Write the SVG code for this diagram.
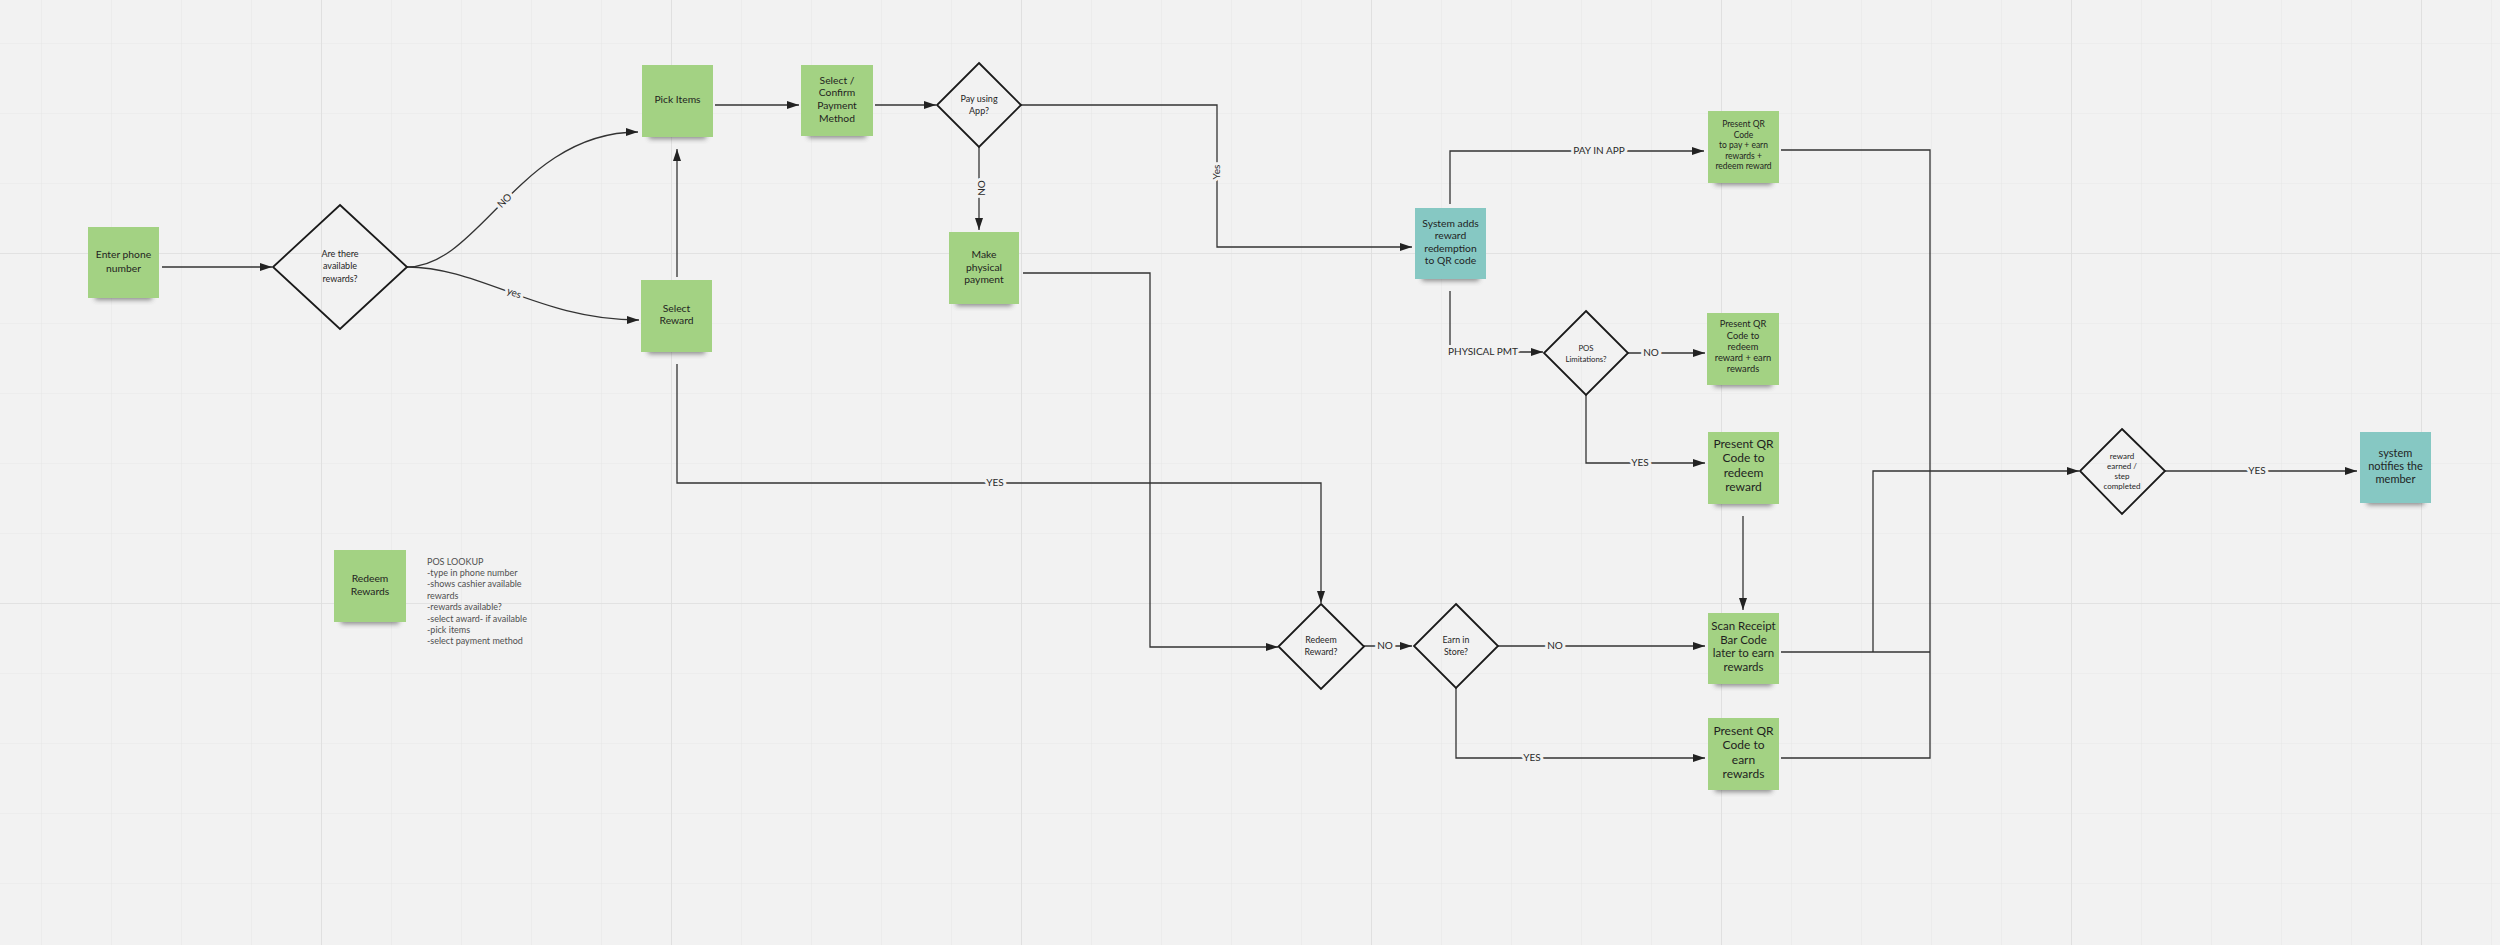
<svg xmlns="http://www.w3.org/2000/svg" width="2500" height="945" viewBox="0 0 2500 945">
<defs>
<pattern id="grid" x="41" y="43" width="70" height="70" patternUnits="userSpaceOnUse">
<path d="M0,0 H70 M0,0 V70" fill="none" stroke="#e7e7e7" stroke-width="1.2"/>
</pattern>
<pattern id="major" x="321" y="253" width="350" height="350" patternUnits="userSpaceOnUse">
<path d="M0,0 H350 M0,0 V350" fill="none" stroke="#dedede" stroke-width="1.6"/>
</pattern>
<filter id="blur" x="-20%" y="-50%" width="140%" height="200%"><feGaussianBlur stdDeviation="2.5"/></filter>
<marker id="arr" viewBox="0 0 12 8" refX="12" refY="4" markerWidth="12" markerHeight="8" markerUnits="userSpaceOnUse" orient="auto">
<path d="M0,0 L12,4 L0,8 z" fill="#222"/>
</marker>
<style>
.g{fill:#a3d283}
.t{fill:#86c8c3}
.sh{fill:#444;opacity:.6;filter:url(#blur)}
.d{fill:none;stroke:#1a1a1a;stroke-width:1.8}
.c{fill:none;stroke:#333;stroke-width:1.3}
.a{marker-end:url(#arr)}
text{font-family:Lato,"Liberation Sans",sans-serif;fill:#1f1f1f;text-anchor:middle}
.lb{font-size:10px;fill:#2a2a2a;stroke:#f2f2f2;stroke-width:6;paint-order:stroke;stroke-linejoin:round}
.n{text-anchor:start;font-size:9px;fill:#505050}
</style>
</defs>
<rect width="2500" height="945" fill="#f2f2f2"/>
<rect width="2500" height="945" fill="url(#grid)"/>
<rect width="2500" height="945" fill="url(#major)"/>

<g id="connectors">
<path class="c a" d="M162,267 H272"/>
<path class="c a" d="M407,267 C480,267 520,132 638,132"/>
<path class="c a" d="M407,267 C480,267 540,320 639,320"/>
<path class="c a" d="M677,277 V149"/>
<path class="c a" d="M715,105 H799"/>
<path class="c a" d="M875,105 H936"/>
<path class="c a" d="M979,147 V230"/>
<path class="c a" d="M1021,105 H1217 V247 H1412"/>
<path class="c a" d="M1023,273 H1150 V647 H1278"/>
<path class="c a" d="M677,364 V483 H1321 V603"/>
<path class="c a" d="M1364,646 H1412"/>
<path class="c a" d="M1498,646 H1705"/>
<path class="c a" d="M1456,688 V758 H1705"/>
<path class="c a" d="M1450,204 V151 H1704"/>
<path class="c a" d="M1450,291 V352 H1543"/>
<path class="c a" d="M1628,353 H1705"/>
<path class="c a" d="M1586,395 V463 H1705"/>
<path class="c a" d="M1743,516 V610"/>
<path class="c" d="M1781,150 H1930 V758 H1781"/>
<path class="c" d="M1781,652 H1930"/>
<path class="c a" d="M1873,652 V471 H2079"/>
<path class="c a" d="M2165,471 H2357"/>
<text class="lb" transform="translate(507,203) rotate(-45)">NO</text>
<text class="lb" transform="translate(513,296) rotate(20)">yes</text>
<text class="lb" transform="translate(982,188) rotate(-90)" dy="3.4">NO</text>
<text class="lb" transform="translate(1217,172) rotate(-90)" dy="3.4">Yes</text>
<text class="lb" x="995" y="486.4">YES</text>
<text class="lb" x="1599" y="154.4">PAY IN APP</text>
<text class="lb" x="1483" y="355.4">PHYSICAL PMT</text>
<text class="lb" x="1651" y="356.4">NO</text>
<text class="lb" x="1640" y="466.4">YES</text>
<text class="lb" x="1385" y="649.4">NO</text>
<text class="lb" x="1555" y="649.4">NO</text>
<text class="lb" x="1532" y="761.4">YES</text>
<text class="lb" x="2257" y="474.4">YES</text>
</g>

<g id="enter-phone">
<rect class="sh" x="95" y="290" width="57" height="10"/>
<rect class="g" x="88" y="227" width="71" height="71"/>
<text font-size="10.3" x="123.5" y="257.5">Enter phone</text>
<text font-size="10.3" x="123.5" y="271.5">number</text>
</g>
<g id="rewards-available">
<path class="d" d="M340,205 L407,267 L340,329 L273,267 Z"/>
<text font-size="9" x="340" y="257">Are there</text>
<text font-size="9" x="340" y="269">available</text>
<text font-size="9" x="340" y="282">rewards?</text>
</g>
<g id="pick-items">
<rect class="sh" x="649" y="129" width="57" height="10"/>
<rect class="g" x="642" y="65" width="71" height="72"/>
<text font-size="10.3" x="677.5" y="102.5">Pick Items</text>
</g>
<g id="select-payment">
<rect class="sh" x="808" y="128" width="58" height="10"/>
<rect class="g" x="801" y="65" width="72" height="71"/>
<text font-size="10.3" x="837" y="83.5">Select /</text>
<text font-size="10.3" x="837" y="95.5">Confirm</text>
<text font-size="10.3" x="837" y="108.5">Payment</text>
<text font-size="10.3" x="837" y="121.5">Method</text>
</g>
<g id="pay-using-app">
<path class="d" d="M979,63 L1021,105 L979,147 L937,105 Z"/>
<text font-size="9" x="979" y="102">Pay using</text>
<text font-size="9" x="979" y="114">App?</text>
</g>
<g id="make-physical-payment">
<rect class="sh" x="956" y="296" width="56" height="10"/>
<rect class="g" x="949" y="232" width="70" height="72"/>
<text font-size="10.3" x="984" y="257.5">Make</text>
<text font-size="10.3" x="984" y="270.5">physical</text>
<text font-size="10.3" x="984" y="282.5">payment</text>
</g>
<g id="select-reward">
<rect class="sh" x="648" y="344" width="57" height="10"/>
<rect class="g" x="641" y="280" width="71" height="72"/>
<text font-size="10.3" x="676.5" y="311.5">Select</text>
<text font-size="10.3" x="676.5" y="323.5">Reward</text>
</g>
<g id="system-adds">
<rect class="sh" x="1422" y="271" width="57" height="10"/>
<rect class="t" x="1415" y="208" width="71" height="71"/>
<text font-size="10.3" x="1450.5" y="226.5">System adds</text>
<text font-size="10.3" x="1450.5" y="238.5">reward</text>
<text font-size="10.3" x="1450.5" y="251.5">redemption</text>
<text font-size="10.3" x="1450.5" y="263.5">to QR code</text>
</g>
<g id="qr-pay-in-app">
<rect class="sh" x="1715" y="175" width="57" height="10"/>
<rect class="g" x="1708" y="111" width="71" height="72"/>
<text font-size="8.5" x="1743.5" y="127">Present QR</text>
<text font-size="8.5" x="1743.5" y="138">Code</text>
<text font-size="8.5" x="1743.5" y="148">to pay + earn</text>
<text font-size="8.5" x="1743.5" y="159">rewards +</text>
<text font-size="8.5" x="1743.5" y="169">redeem reward</text>
</g>
<g id="pos-limitations">
<path class="d" d="M1586,311 L1628,353 L1586,395 L1544,353 Z"/>
<text font-size="7.8" x="1586" y="351">POS</text>
<text font-size="7.8" x="1586" y="362">Limitations?</text>
</g>
<g id="qr-redeem-earn">
<rect class="sh" x="1714" y="377" width="58" height="10"/>
<rect class="g" x="1707" y="313" width="72" height="72"/>
<text font-size="9.3" x="1743" y="327">Present QR</text>
<text font-size="9.3" x="1743" y="339">Code to</text>
<text font-size="9.3" x="1743" y="350">redeem</text>
<text font-size="9.3" x="1743" y="361">reward + earn</text>
<text font-size="9.3" x="1743" y="372">rewards</text>
</g>
<g id="qr-redeem">
<rect class="sh" x="1715" y="496" width="57" height="10"/>
<rect class="g" x="1708" y="432" width="71" height="72"/>
<text font-size="12" x="1743.5" y="448">Present QR</text>
<text font-size="12" x="1743.5" y="462">Code to</text>
<text font-size="12" x="1743.5" y="477">redeem</text>
<text font-size="12" x="1743.5" y="491">reward</text>
</g>
<g id="redeem-reward">
<path class="d" d="M1321,604 L1364,646.5 L1321,689 L1278.5,646.5 Z"/>
<text font-size="8.8" x="1321" y="643">Redeem</text>
<text font-size="8.8" x="1321" y="655">Reward?</text>
</g>
<g id="earn-in-store">
<path class="d" d="M1456,604 L1498,646 L1456,688 L1414,646 Z"/>
<text font-size="8.8" x="1456" y="643">Earn in</text>
<text font-size="8.8" x="1456" y="655">Store?</text>
</g>
<g id="scan-receipt">
<rect class="sh" x="1715" y="676" width="57" height="10"/>
<rect class="g" x="1708" y="613" width="71" height="71"/>
<text font-size="11.5" x="1743.5" y="630">Scan Receipt</text>
<text font-size="11.5" x="1743.5" y="644">Bar Code</text>
<text font-size="11.5" x="1743.5" y="657">later to earn</text>
<text font-size="11.5" x="1743.5" y="671">rewards</text>
</g>
<g id="qr-earn">
<rect class="sh" x="1715" y="782" width="57" height="10"/>
<rect class="g" x="1708" y="718" width="71" height="72"/>
<text font-size="12" x="1743.5" y="735">Present QR</text>
<text font-size="12" x="1743.5" y="749">Code to</text>
<text font-size="12" x="1743.5" y="764">earn</text>
<text font-size="12" x="1743.5" y="778">rewards</text>
</g>
<g id="reward-earned">
<path class="d" d="M2122,429 L2165,471 L2122,514 L2080,471 Z"/>
<text font-size="8" x="2122" y="459">reward</text>
<text font-size="8" x="2122" y="469">earned /</text>
<text font-size="8" x="2122" y="479">step</text>
<text font-size="8" x="2122" y="489">completed</text>
</g>
<g id="system-notifies">
<rect class="sh" x="2367" y="495" width="57" height="10"/>
<rect class="t" x="2360" y="432" width="71" height="71"/>
<text font-size="11" x="2395.5" y="457">system</text>
<text font-size="11" x="2395.5" y="470">notifies the</text>
<text font-size="11" x="2395.5" y="483">member</text>
</g>
<g id="redeem-rewards">
<rect class="sh" x="341" y="614" width="58" height="10"/>
<rect class="g" x="334" y="550" width="72" height="72"/>
<text font-size="10.3" x="370" y="581.5">Redeem</text>
<text font-size="10.3" x="370" y="594.5">Rewards</text>
</g>
<g id="pos-lookup-notes">
<text class="n" x="427" y="565">POS LOOKUP</text>
<text class="n" x="427" y="576">-type in phone number</text>
<text class="n" x="427" y="587">-shows cashier available</text>
<text class="n" x="427" y="599">rewards</text>
<text class="n" x="427" y="610">-rewards available?</text>
<text class="n" x="427" y="622">-select award- if available</text>
<text class="n" x="427" y="633">-pick items</text>
<text class="n" x="427" y="644">-select payment method</text>
</g>
</svg>
